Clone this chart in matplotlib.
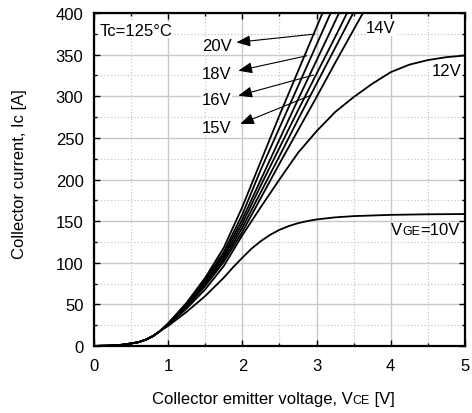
import matplotlib
matplotlib.use("Agg")
import matplotlib.pyplot as plt
from matplotlib.ticker import MultipleLocator

plt.rcParams['font.family'] = ['Liberation Sans', 'DejaVu Sans']
plt.rcParams['font.size'] = 12

# collector-emitter voltage [V]
v_ce = [0, 0.2, 0.4, 0.5, 0.6, 0.7, 0.8, 0.9, 1.0, 1.25, 1.5, 1.75, 2.0, 2.25,
        2.5, 2.75, 3.0, 3.25, 3.5, 3.75, 4.0, 4.25, 4.5, 4.75, 5.0]
v_ce_10V = [0, 0.2, 0.4, 0.5, 0.6, 0.7, 0.8, 0.9, 1.0, 1.25, 1.5, 1.75, 1.875,
            2.0, 2.125, 2.25, 2.375, 2.5, 2.625, 2.75, 2.875, 3.0, 3.25, 3.5,
            4.0, 4.5, 5.0]

# collector current [A], one list per gate voltage (steep ones stop above 400 A)
low = [0, 0.3, 1.5, 3, 4.5, 7.5, 12, 18.5]
ic_20V = low + [27, 52, 82, 118, 167, 222, 277, 330, 383, 436]
ic_18V = low + [27, 51, 80, 113, 158, 212, 262, 312, 362, 412]
ic_16V = low + [26.5, 50, 78, 110, 152, 200, 248, 296, 343, 390, 437]
ic_15V = low + [26, 49, 76, 107, 147, 193, 238, 283, 327, 371, 416]
ic_14V5 = low + [26, 48, 74, 104, 142, 185, 228, 272, 315, 358, 401]
ic_14V = low + [25.5, 47, 72, 101, 137, 178, 219, 259, 299, 340, 380, 420]
ic_12V = low + [25, 45, 68, 96, 133, 167, 200, 232, 258, 281, 299, 315, 329,
                338, 343.5, 347, 349]
ic_10V = low + [24, 41, 60, 82, 94.5, 106, 117, 126, 133.5, 139.5, 144, 147.5,
                150, 152, 154.5, 156, 157.5, 158.2, 158.5]

steep = [ic_20V, ic_18V, ic_16V, ic_15V, ic_14V5, ic_14V, ic_12V]

# arrow labels: text, label y, arrow tip, arrow tail on the curve
arrow_labels = ["20V", "18V", "16V", "15V"]
arrow_text_y = [360.7, 327.7, 296.7, 262.7]
arrow_tips = [(1.92, 364.8), (1.945, 330.7), (1.945, 300.7), (1.97, 266.7)]
arrow_tails = [(2.98, 374.8), (2.87, 348.7), (2.96, 325.5), (2.91, 300.7)]

fig = plt.figure(figsize=(4.72, 4.14), dpi=100)
ax = fig.add_axes([0.199, 0.162, 0.786, 0.804])

for ic in steep:
    ax.plot(v_ce[:len(ic)], ic, color='black', lw=1.3)
ax.plot(v_ce_10V, ic_10V, color='black', lw=1.3)

ax.set_xlim(0, 5)
ax.set_ylim(0, 400)
ax.xaxis.set_major_locator(MultipleLocator(1))
ax.xaxis.set_minor_locator(MultipleLocator(0.5))
ax.yaxis.set_major_locator(MultipleLocator(50))
ax.yaxis.set_minor_locator(MultipleLocator(25))
ax.grid(True, which='major', color='#c8c8c8', lw=1.0, ls='-')
ax.grid(True, which='minor', color='#bdbdbd', lw=0.8, ls=(0, (1, 2)))
ax.set_axisbelow(True)
ax.tick_params(which='both', direction='in', top=True, right=True, width=1)
ax.tick_params(which='major', length=4)
ax.tick_params(which='minor', length=2)
ax.tick_params(axis='x', pad=9)
ax.tick_params(axis='y', pad=7.5)
for sp in ax.spines.values():
    sp.set_linewidth(1.6)

wbox = dict(facecolor='white', edgecolor='none', pad=0.5)

ax.text(0.08, 379.6, "Tc=125\u00b0C", ha='left', va='center', bbox=wbox)

for lab, ty, tip, tail in zip(arrow_labels, arrow_text_y, arrow_tips, arrow_tails):
    ax.text(1.856, ty, lab, ha='right', va='center', bbox=wbox)
    ax.annotate('', xy=tip, xytext=tail,
                arrowprops=dict(arrowstyle='-|>,head_length=0.7,head_width=0.28',
                                color='black', lw=0.8, mutation_scale=12,
                                shrinkA=0, shrinkB=0))

ax.text(3.67, 382.8, "14V", ha='left', va='center', bbox=wbox)
ax.text(4.955, 330.7, "12V", ha='right', va='center', bbox=wbox)

# V_GE label with small "GE" on the baseline
t_eq = ax.text(4.93, 140.5, "=10V", ha='right', va='center')
t_ge = ax.annotate("GE", xy=(0, 0), xycoords=t_eq, ha='right', va='bottom', fontsize=9)
ax.annotate("V", xy=(0, 0), xycoords=(t_ge, t_eq), ha='right', va='bottom')

# axis labels
fig.text(20 / 472, 1 - 174 / 414, "Collector current, Ic [A]", rotation=90,
         ha='center', va='center')
t1 = fig.text(151.7 / 472, 1 - 400 / 414, "Collector emitter voltage, V",
              ha='left', va='center')
t2 = ax.annotate("CE", xy=(1, 0), xycoords=t1, ha='left', va='bottom',
                 fontsize=9, annotation_clip=False)
ax.annotate(" [V]", xy=(1, 0), xycoords=(t2, t1), ha='left', va='bottom',
            annotation_clip=False)

fig.savefig("out.png", dpi=100)
